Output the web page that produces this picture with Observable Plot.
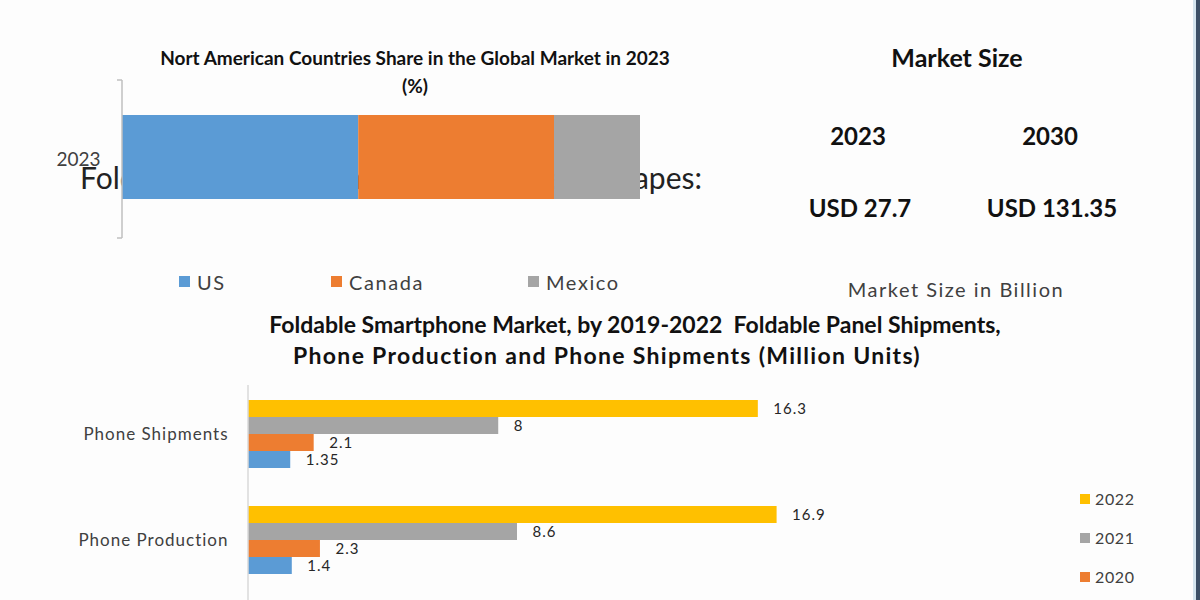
<!DOCTYPE html>
<html>
<head>
<meta charset="utf-8">
<script src="https://cdn.jsdelivr.net/npm/d3@7"></script>
<script src="https://cdn.jsdelivr.net/npm/@observablehq/plot@0.6"></script>
<style>
  html, body { margin: 0; padding: 0; background: #fff; }
  #root { position: relative; width: 1200px; height: 600px; overflow: hidden; background: #fdfdfd; font-family: Lato, "Open Sans", sans-serif; }
  .abs { position: absolute; white-space: nowrap; }
  .ctr { transform: translateX(-50%); text-align: center; }
  .bold { font-weight: 700; color: #111; }
  .sq { position: absolute; width: 11px; height: 11px; }
  .lg { position: absolute; white-space: nowrap; color: #404040; }
  #border1 { position: absolute; left: 1193px; top: 0; width: 3px; height: 600px; background: #d3e4ee; }
  #border2 { position: absolute; left: 1196px; top: 0; width: 4px; height: 600px; background: #3b4f66; }
  svg { overflow: visible; }
</style>
</head>
<body>
<div id="root">
  <div id="behind" class="abs" style="left:80px; top:162px; font-size:30px; color:#222; line-height:30px;">Foldable Smartphone Market Competitive Landscapes:</div>
  <div class="abs ctr bold" style="left:415px; top:44px; font-size:19px; line-height:28px;">Nort American Countries Share in the Global Market in 2023</div>
  <div class="abs ctr bold" style="left:415px; top:72px; font-size:19px; line-height:28px;">(%)</div>
  <div id="topChart" class="abs" style="left:0; top:80px;"></div>
  <div id="topLegend"></div>

  <div class="abs ctr bold" style="left:957px; top:42px; font-size:25px; line-height:30px;">Market Size</div>
  <div id="msYears"></div>
  <div class="abs ctr" style="left:956px; top:276px; font-size:20px; letter-spacing:1.5px; line-height:26px; color:#404040;">Market Size in Billion</div>

  <div class="abs ctr bold" style="left:635px; top:309px; font-size:23px; line-height:31px;">Foldable Smartphone Market, by 2019-2022&nbsp; Foldable Panel Shipments,</div>
  <div class="abs ctr bold" style="left:607px; top:340px; font-size:23px; letter-spacing:1.3px; line-height:31px;">Phone Production and Phone Shipments (Million Units)</div>
  <div id="botChart" class="abs" style="left:0; top:380px;"></div>
  <div id="botLegend"></div>

  <div id="border1"></div>
  <div id="border2"></div>
</div>
<script>
// ---------- Data ----------
const shareYear = "2023";
const shareCountries = ["US", "Canada", "Mexico"];
const shareValues = [45.6, 37.8, 16.6];

const marketYears = ["2023", "2030"];
const marketValues = [27.7, 131.35];

const categories = ["Phone Shipments", "Phone Production"];
const years = ["2022", "2021", "2020", "2019"];
const phoneShipments = [16.3, 8, 2.1, 1.35];
const phoneProduction = [16.9, 8.6, 2.3, 1.4];
const legendYears = ["2022", "2021", "2020"];

// ---------- Styles ----------
const shareColors = ["#5b9bd5", "#ed7d31", "#a5a5a5"];
const yearColors = ["#ffc000", "#a5a5a5", "#ed7d31", "#5b9bd5"];

// stretch the partly hidden background caption to its span in the reference
{
  const el = document.getElementById("behind");
  const w = el.getBoundingClientRect().width;
  const spaces = (el.textContent.match(/ /g) || []).length;
  el.style.wordSpacing = ((622 - w) / spaces) + "px";
}

// ---------- Top chart ----------
const shareRows = shareCountries.map((c, i) => ({year: shareYear, country: c, value: shareValues[i]}));
const topPlot = Plot.plot({
  width: 720, height: 158,
  marginLeft: 122, marginRight: 80, marginTop: 0, marginBottom: 0,
  style: {fontFamily: "Lato, sans-serif", fontSize: "19px", color: "#404040", background: "transparent"},
  x: {domain: [0, 100], axis: null},
  y: {domain: [shareYear], padding: 0, axis: "left", tickSize: 0, tickPadding: 22, label: null},
  color: {domain: shareCountries, range: shareColors},
  marks: [
    Plot.barX(shareRows, Plot.stackX({x: "value", y: "year", fill: "country", insetTop: 35, insetBottom: 39}))
  ]
});
document.getElementById("topChart").appendChild(topPlot);
{
  const sx = topPlot.scale("x").apply(0);
  const g = d3.select(topPlot).append("g").attr("stroke", "#bfbfbf").attr("stroke-width", 1.5);
  g.append("line").attr("x1", sx).attr("x2", sx).attr("y1", 0).attr("y2", 158);
  g.append("line").attr("x1", sx - 5).attr("x2", sx).attr("y1", 0).attr("y2", 0);
  g.append("line").attr("x1", sx - 5).attr("x2", sx).attr("y1", 158).attr("y2", 158);
}
// top legend
{
  const pos = [179, 331, 528];
  const lg = document.getElementById("topLegend");
  shareCountries.forEach((c, i) => {
    const s = document.createElement("div");
    s.className = "sq"; s.style.left = pos[i] + "px"; s.style.top = "276px"; s.style.background = shareColors[i];
    lg.appendChild(s);
    const t = document.createElement("div");
    t.className = "lg"; t.style.left = (pos[i] + 18) + "px"; t.style.top = "268px"; t.style.fontSize = "20px"; t.style.letterSpacing = "1.6px"; t.style.lineHeight = "28px";
    t.textContent = c;
    lg.appendChild(t);
  });
}
// market size
{
  const xs = [858, 1050];
  const ms = document.getElementById("msYears");
  marketYears.forEach((y, i) => {
    const a = document.createElement("div");
    a.className = "abs ctr bold"; a.style.left = xs[i] + "px"; a.style.top = "121px"; a.style.fontSize = "24px"; a.style.lineHeight = "30px";
    a.textContent = y; ms.appendChild(a);
    const b = document.createElement("div");
    b.className = "abs ctr bold"; b.style.left = (xs[i] + 2) + "px"; b.style.top = "193px"; b.style.fontSize = "24px"; b.style.lineHeight = "30px";
    b.textContent = "USD " + marketValues[i]; ms.appendChild(b);
  });
}

// ---------- Bottom chart ----------
const rows = [];
phoneShipments.forEach((v, i) => rows.push({category: categories[0], year: years[i], value: v}));
phoneProduction.forEach((v, i) => rows.push({category: categories[1], year: years[i], value: v}));

const botPlot = Plot.plot({
  width: 900, height: 196,
  marginLeft: 248, marginRight: 89, marginTop: 19, marginBottom: 0,
  style: {fontFamily: "Lato, sans-serif", fontSize: "17px", letterSpacing: "1px", color: "#404040", background: "transparent"},
  x: {domain: [0, 18], axis: null},
  y: {domain: years, padding: 0, axis: null},
  fy: {domain: categories, paddingInner: 0.336, paddingOuter: 0, axis: "left", tickSize: 0, tickPadding: 20, label: null},
  color: {domain: years, range: yearColors},
  marks: [
    Plot.barX(rows, {x: "value", y: "year", fy: "category", fill: "year"}),
    Plot.text(rows, {x: "value", y: "year", fy: "category", text: d => String(d.value), dx: 15, textAnchor: "start", fontSize: 15, fill: "#262626"})
  ]
});
document.getElementById("botChart").appendChild(botPlot);
{
  const sx = botPlot.scale("x").apply(0);
  d3.select(botPlot).append("line").attr("stroke", "#d9d9d9").attr("stroke-width", 1.5)
    .attr("x1", sx).attr("x2", sx).attr("y1", 5).attr("y2", 230);
}
// bottom legend
{
  const lg = document.getElementById("botLegend");
  legendYears.forEach((y, i) => {
    const cy = 499 + i * 39;
    const s = document.createElement("div");
    s.className = "sq"; s.style.width = "10px"; s.style.height = "10px";
    s.style.left = "1080px"; s.style.top = (cy - 5) + "px"; s.style.background = yearColors[years.indexOf(y)];
    lg.appendChild(s);
    const t = document.createElement("div");
    t.className = "lg"; t.style.left = "1095px"; t.style.top = (cy - 11) + "px"; t.style.fontSize = "16px"; t.style.letterSpacing = "0.6px"; t.style.lineHeight = "22px";
    t.textContent = y;
    lg.appendChild(t);
  });
}
</script>
</body>
</html>
